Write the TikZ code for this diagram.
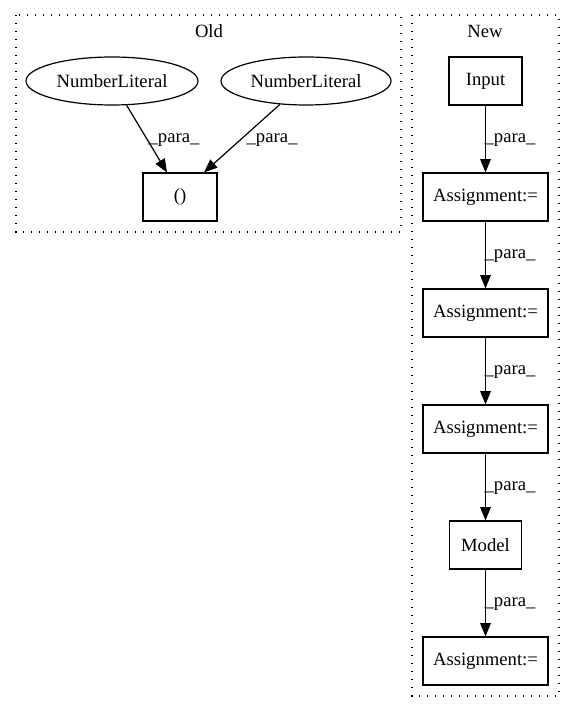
\documentclass[tikz,border=0pt]{standalone}
\usepackage{fontspec}
\setmainfont{Liberation Serif}
\usetikzlibrary{arrows.meta,shapes.geometric,calc}
\begin{document}
\begin{tikzpicture}[x=0.75pt,y=-0.75pt,
  every node/.style={font=\fontsize{14pt}{16pt}\selectfont, inner sep=0pt},
  box/.style={draw, line width=0.9pt, rectangle, minimum height=36pt},
  oval/.style={draw, line width=0.9pt, ellipse, minimum height=36pt},
  cluster/.style={draw, line width=0.9pt, dash pattern=on 1pt off 5pt},
  edge/.style={line width=0.9pt, -{Triangle[length=10pt,width=8pt]}},
  lbl/.style={fill=none}
]
\useasboundingbox (0,0) rectangle (575,712);
% clusters
\draw[cluster] (16,15) rectangle (401,232);
\node (oldt) at (209,31) {Old};
\draw[cluster] (412,15) rectangle (559,696);
\node (newt) at (485,31) {New};
% Old nodes
\node[oval, minimum width=129pt] (e1) at (112,81) {NumberLiteral};
\node[oval, minimum width=127.5pt] (e2) at (306,81) {NumberLiteral};
\node[box, minimum width=55.5pt] (ob) at (180,197) {()};
\draw[edge] (e1) -- ([xshift=-9.75pt]ob.north);
\draw[edge] (e2) -- ([xshift=18pt]ob.north);
\node[lbl] (l1) at (174,140) {\_para\_};
\node[lbl] (l2) at (272,140) {\_para\_};
% New nodes
\node[box, minimum width=54.75pt] (inp) at (485.5,81) {Input};
\node[box, minimum width=93.75pt] (a1) at (485.5,197) {Assignment:=};
\node[box, minimum width=93.75pt] (a2) at (485.5,313) {Assignment:=};
\node[box, minimum width=93.75pt] (a3) at (485.5,429) {Assignment:=};
\node[box, minimum width=54pt] (mod) at (485.5,545) {Model};
\node[box, minimum width=93.75pt] (a4) at (485.5,661) {Assignment:=};
\draw[edge] (inp) -- (a1);
\draw[edge] (a1) -- (a2);
\draw[edge] (a2) -- (a3);
\draw[edge] (a3) -- (mod);
\draw[edge] (mod) -- (a4);
\node[lbl] (n1) at (510,140) {\_para\_};
\node[lbl] (n2) at (510,256) {\_para\_};
\node[lbl] (n3) at (510,372) {\_para\_};
\node[lbl] (n4) at (510,488) {\_para\_};
\node[lbl] (n5) at (510,604) {\_para\_};
\end{tikzpicture}
\end{document}
